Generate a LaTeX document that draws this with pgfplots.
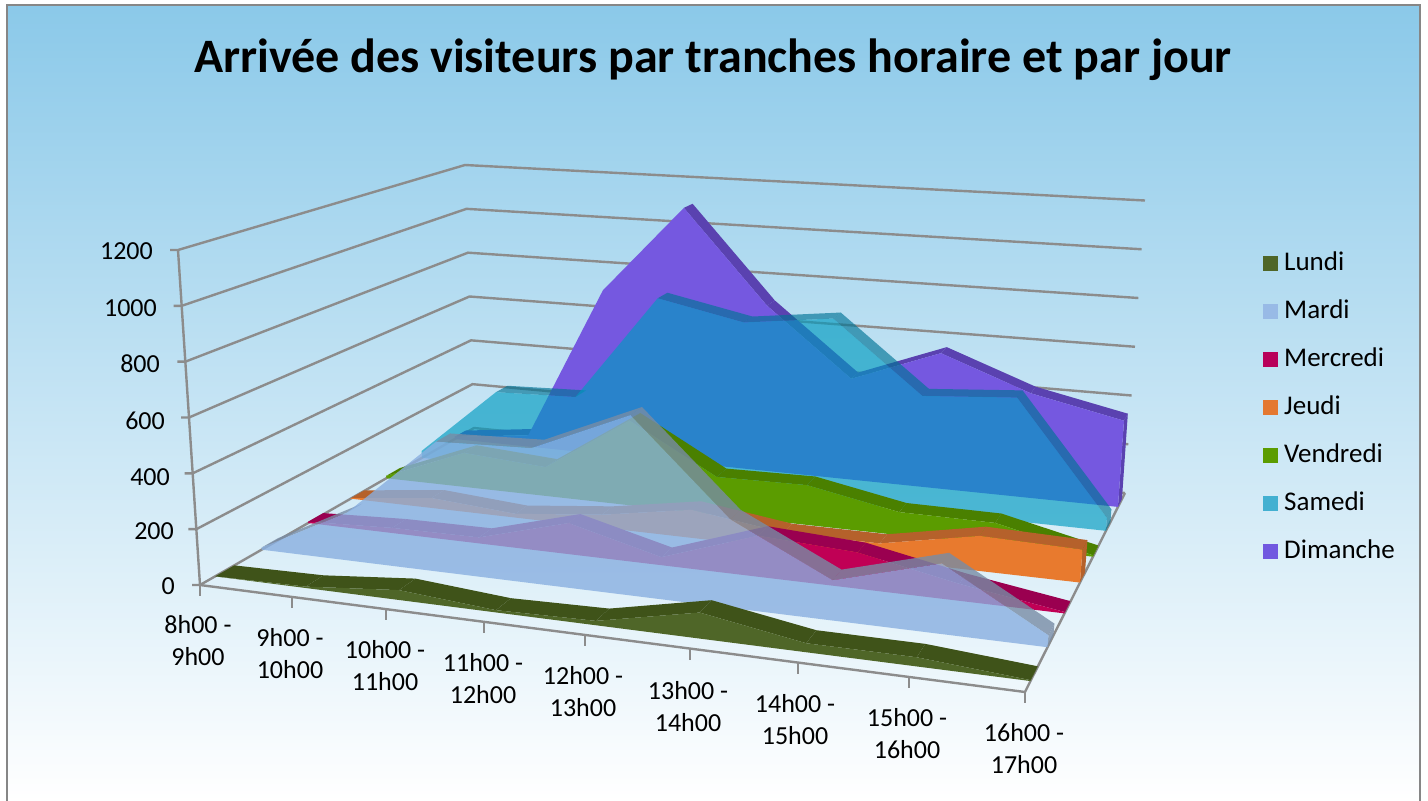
\documentclass[border=0pt]{standalone}
\usepackage{fontspec}
\setmainfont{Carlito}
\usepackage{pgfplots}
\usepackage{pgfplotstable}
\pgfplotsset{compat=1.18}
\pgfkeys{/pgf/declare function={
  uf(\k)=0.876*(\k/8)/(1-0.124*(\k/8));
  bil(\p,\q,\ra,\rb,\rc,\rd)=(1-\p)*(1-\q)*\ra+\p*(1-\q)*\rb+(1-\p)*\q*\rc+\p*\q*\rd;
  PX(\k,\q,\w)=(1-\w/1200)*bil(uf(\k),\q,200,1025,474,1125)+(\w/1200)*bil(uf(\k),\q,178,1057,465,1145);
  PY(\k,\q,\w)=(1-\w/1200)*bil(uf(\k),\q,585,692,428,493)+(\w/1200)*bil(uf(\k),\q,250,318,165,200.5);
}}
\definecolor{bgtop}{RGB}{139,201,233}
\definecolor{gridc}{RGB}{140,140,140}
\definecolor{framec}{RGB}{134,134,134}
\definecolor{cLun}{RGB}{79,102,40}\definecolor{sLun}{RGB}{63,83,25}
\definecolor{cMar}{RGB}{137,175,224}\definecolor{sMar}{RGB}{120,140,165}
\definecolor{cMer}{RGB}{192,0,85}\definecolor{sMer}{RGB}{154,0,80}
\definecolor{cJeu}{RGB}{232,122,46}\definecolor{sJeu}{RGB}{181,97,43}
\definecolor{cVen}{RGB}{91,156,0}\definecolor{sVen}{RGB}{74,128,0}
\definecolor{cSam}{RGB}{1,155,192}\definecolor{sSam}{RGB}{0,116,150}
\definecolor{cDim}{RGB}{117,88,224}\definecolor{sDim}{RGB}{90,66,176}
\definecolor{lLun}{RGB}{79,102,40}\definecolor{lMar}{RGB}{152,186,230}
\definecolor{lMer}{RGB}{184,0,90}\definecolor{lJeu}{RGB}{228,120,48}
\definecolor{lVen}{RGB}{91,156,0}\definecolor{lSam}{RGB}{67,176,209}
\definecolor{lDim}{RGB}{113,88,224}
% values per hour slot (0 = 8h00-9h00 ... 8 = 16h00-17h00)
\pgfplotstableread{
i v
0 0
1 5
2 35
3 8
4 15
5 88
6 30
7 30
8 3
}\tLun
\pgfplotstableread{
i v
0 8
1 178
2 477
3 489
4 643
5 310
6 139
7 240
8 40
}\tMar
\pgfplotstableread{
i v
0 5
1 20
2 23
3 117
4 30
5 150
6 130
7 60
8 5
}\tMer
\pgfplotstableread{
i v
0 2
1 40
2 15
3 50
4 108
5 60
6 60
7 129
8 120
}\tJeu
\pgfplotstableread{
i v
0 10
1 141
2 118
3 342
4 151
5 156
6 89
7 87
8 5
}\tVen
\pgfplotstableread{
i v
0 30
1 316
2 327
3 771
4 698
5 742
6 460
7 486
8 50
}\tSam
\pgfplotstableread{
i v
0 10
1 50
2 716
3 1097
4 702
5 422
6 559
7 425
8 347
}\tDim
\newcommand\PT[4]{\pgfmathsetmacro\ptx{PX(#1,#2,#3)}\pgfmathsetmacro\pty{PY(#1,#2,#3)}\edef#4{(\ptx,\pty)}}
\newcommand\DrawSeries[7]{%
  % #1 table, #2 front depth, #3 back depth, #4 front colour, #5 top colour, #6 side colour, #7 opacity
  \pgfplotsforeachungrouped \k in {0,...,7}{%
    \pgfmathtruncatemacro\kn{\k+1}%
    \pgfplotstablegetelem{\k}{v}\of{#1}\let\va\pgfplotsretval
    \pgfplotstablegetelem{\kn}{v}\of{#1}\let\vb\pgfplotsretval
    \pgfmathsetmacro\fax{PX(\k,#2,\va)}\pgfmathsetmacro\fay{PY(\k,#2,\va)}%
    \pgfmathsetmacro\fbx{PX(\kn,#2,\vb)}\pgfmathsetmacro\fby{PY(\kn,#2,\vb)}%
    \pgfmathsetmacro\rax{PX(\k,#3,\va)}\pgfmathsetmacro\ray{PY(\k,#3,\va)}%
    \pgfmathsetmacro\rbx{PX(\kn,#3,\vb)}\pgfmathsetmacro\rby{PY(\kn,#3,\vb)}%
    \pgfmathsetmacro\crs{(\ray-\fay)*(\fbx-\fax)/100-(\fby-\fay)*(\rax-\fax)/100}%
    \ifdim\crs pt<0pt
      \edef\cmd{\noexpand\addplot[forget plot,no markers,draw=none,fill=#5,fill opacity=#7] coordinates {(\fax,\fay)(\fbx,\fby)(\rbx,\rby)(\rax,\ray)};}\cmd
    \fi
  }%
  \PT{0}{#2}{0}{\pa}\PT{8}{#2}{0}{\pb}\PT{8}{#3}{0}{\pc}
  \xdef\frontpts{\pa}%
  \pgfplotsforeachungrouped \k in {0,...,8}{%
    \pgfplotstablegetelem{\k}{v}\of{#1}\let\val\pgfplotsretval
    \PT{\k}{#2}{\val}{\pf}\PT{\k}{#3}{\val}{\pr}
    \xdef\frontpts{\frontpts\pf}
    \xdef\lastf{\pf}\xdef\lastr{\pr}
  }%
  \edef\cmd{%
    \noexpand\addplot[forget plot,no markers,draw=none,fill=#6,fill opacity=#7] coordinates {\pb\lastf\lastr\pc};
    \noexpand\addplot[forget plot,no markers,draw=none,fill=#4,fill opacity=#7] coordinates {\frontpts\pb};}%
  \cmd
}
\newcommand\GridAt[1]{%
  \PT{0}{0}{#1}{\pa}\PT{0}{1}{#1}{\pb}\PT{8}{1}{#1}{\pc}
  \pgfmathsetmacro\tkx{PX(0,0,#1)-8}\pgfmathsetmacro\tky{PY(0,0,#1)}
  \edef\cmd{\noexpand\addplot[forget plot,no markers,gridc,line width=2.4pt] coordinates {(\tkx,\tky)\pa\pb\pc};}\cmd
}
\newcommand\XTick[1]{%
  \pgfmathsetmacro\tkx{PX(#1,0,0)}\pgfmathsetmacro\tky{PY(#1,0,0)}\pgfmathsetmacro\tkz{\tky+11}
  \edef\cmd{\noexpand\addplot[forget plot,no markers,gridc,line width=2pt] coordinates {(\tkx,\tky)(\tkx,\tkz)};}\cmd
}
\newcommand\ZLab[3]{\node[font=\fontsize{26}{28}\selectfont,anchor=east,inner sep=0pt] at (axis cs:#2,#3) {#1};}
\newcommand\XLab[4]{\node[font=\fontsize{26}{32}\selectfont,align=center,inner sep=0pt] at (axis cs:#3,#4) {#1 -\\#2};}
\begin{document}
\begin{tikzpicture}
\begin{axis}[
  name=ax,
  scale only axis,width=1428pt,height=801pt,
  xmin=0,xmax=1428,ymin=0,ymax=801,y dir=reverse,
  hide axis,clip=true,
  legend style={at={(axis cs:1263,239)},anchor=north west,draw=none,fill=none,
    font=\fontsize{27}{29}\selectfont,inner sep=0pt,
    nodes={inner ysep=0pt,inner xsep=6pt,anchor=west,text height=31pt,text depth=17pt}},
  legend cell align=left,
  legend image code/.code={\path[draw=none,#1] (0pt,-7.5pt) rectangle (15pt,7.5pt);},
]
\path[top color=bgtop,bottom color=white] (axis cs:8,6) rectangle (axis cs:1419,801);
\draw[framec,line width=2.5pt] (axis cs:7,801) -- (axis cs:7,5) -- (axis cs:1420,5) -- (axis cs:1420,801);
\addlegendimage{fill=lLun}\addlegendentry{Lundi}
\addlegendimage{fill=lMar}\addlegendentry{Mardi}
\addlegendimage{fill=lMer}\addlegendentry{Mercredi}
\addlegendimage{fill=lJeu}\addlegendentry{Jeudi}
\addlegendimage{fill=lVen}\addlegendentry{Vendredi}
\addlegendimage{fill=lSam}\addlegendentry{Samedi}
\addlegendimage{fill=lDim}\addlegendentry{Dimanche}
\GridAt{200}\GridAt{400}\GridAt{600}\GridAt{800}\GridAt{1000}\GridAt{1200}
\GridAt{0}
\PT{0}{0}{0}{\pa}\PT{0}{0}{1200}{\pb}\PT{8}{0}{0}{\pc}\PT{8}{1}{0}{\pd}
\edef\cmd{\noexpand\addplot[forget plot,no markers,gridc,line width=2.4pt] coordinates {\pb\pa\pc\pd};}\cmd
\XTick{0}\XTick{1}\XTick{2}\XTick{3}\XTick{4}\XTick{5}\XTick{6}\XTick{7}\XTick{8}
\DrawSeries{\tDim}{0.93}{0.97}{cDim}{sDim}{sDim}{1}
\DrawSeries{\tSam}{0.81}{0.855}{cSam}{sSam}{sSam}{0.65}
\DrawSeries{\tVen}{0.68}{0.73}{cVen}{sVen}{sVen}{1}
\DrawSeries{\tJeu}{0.55}{0.60}{cJeu}{sJeu}{sJeu}{1}
\DrawSeries{\tMer}{0.395}{0.45}{cMer}{sMer}{sMer}{1}
\DrawSeries{\tMar}{0.225}{0.285}{cMar}{sMar}{sMar}{0.8}
\DrawSeries{\tLun}{0.055}{0.125}{cLun}{sLun}{sLun}{1}
\node[font=\fontsize{48}{52}\bfseries\selectfont] at (axis cs:713,60) {Arrivée des visiteurs par tranches horaire et par jour};
\ZLab{1200}{153}{251}\ZLab{1000}{157}{308}\ZLab{800}{160}{364}\ZLab{600}{165}{421}\ZLab{400}{170}{477}\ZLab{200}{174}{531}\ZLab{0}{175}{586}
\XLab{8h00}{9h00}{198}{641}\XLab{9h00}{10h00}{290}{654}\XLab{10h00}{11h00}{385}{666}\XLab{11h00}{12h00}{483}{679}\XLab{12h00}{13h00}{583}{692}\XLab{13h00}{14h00}{688}{707}\XLab{14h00}{15h00}{795}{720}\XLab{15h00}{16h00}{907}{734}\XLab{16h00}{17h00}{1024}{749}
\end{axis}
\pgfresetboundingbox
\path[use as bounding box] (ax.south west) rectangle (ax.north east);
\end{tikzpicture}
\end{document}
